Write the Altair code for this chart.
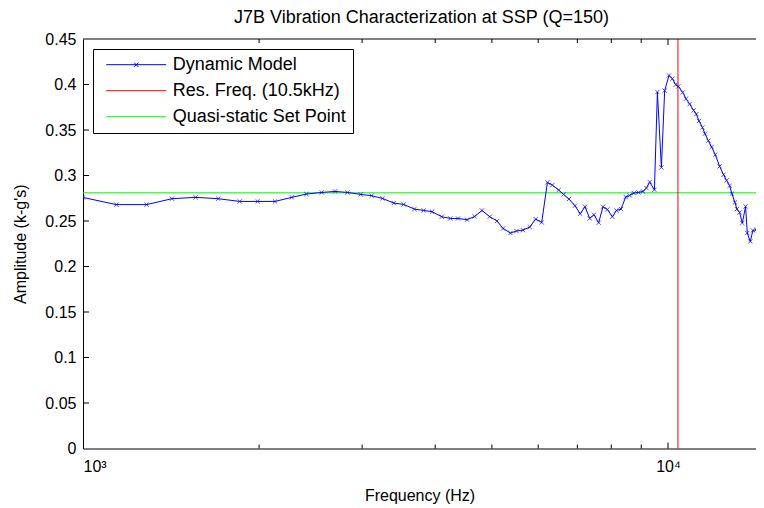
import altair as alt
import pandas as pd

# ---- data ----
freq = [1000, 1140, 1284, 1419, 1558, 1703, 1853, 1989, 2129, 2275, 2409, 2559, 2697, 2831,
        2984, 3115, 3250, 3398, 3533, 3686, 3823, 3951, 4104, 4246, 4375, 4533, 4673, 4809,
        4957, 5103, 5224, 5379, 5508, 5651, 5803, 5941, 6083, 6221, 6343, 6503, 6632, 6772,
        6934, 7079, 7213, 7348, 7472, 7612, 7742, 7877, 8035, 8162, 8311, 8466, 8600, 8738,
        8901, 9064, 9186, 9306, 9480, 9592, 9744, 9870, 10039, 10174, 10308, 10417, 10596,
        10734, 10891, 11064, 11182, 11298, 11450, 11567, 11723, 11875, 12048, 12253, 12448,
        12595, 12746, 12861, 13014, 13118, 13257, 13398, 13571, 13663, 13826, 13966, 14155,
        14266, 14527]
amp = [0.2759, 0.268, 0.268, 0.2745, 0.276, 0.2745, 0.2715, 0.2715, 0.2715, 0.276, 0.2796,
       0.2814, 0.2825, 0.2814, 0.2792, 0.2778, 0.2748, 0.2697, 0.2682, 0.2631, 0.2616, 0.2602,
       0.2547, 0.2528, 0.2528, 0.2514, 0.255, 0.2616, 0.2547, 0.25, 0.2418, 0.2368, 0.239,
       0.24, 0.2433, 0.2521, 0.2484, 0.2924, 0.2895, 0.284, 0.2792, 0.2741, 0.2668, 0.258,
       0.2657, 0.2528, 0.2569, 0.2481, 0.2657, 0.2627, 0.2547, 0.2616, 0.2631, 0.2763, 0.2781,
       0.2807, 0.2814, 0.2825, 0.2862, 0.2928, 0.2843, 0.3917, 0.3089, 0.3932, 0.41, 0.4064,
       0.3998, 0.3979, 0.3913, 0.3844, 0.3785, 0.3715, 0.3675, 0.3599, 0.3528, 0.3459, 0.3382,
       0.3313, 0.3228, 0.31, 0.3008, 0.2946, 0.2887, 0.28, 0.2704, 0.2631, 0.2594, 0.2478,
       0.266, 0.2368, 0.2275, 0.2396, 0.2404, 0.2503, 0.2605]

series_names = ["Dynamic Model", "Res. Freq. (10.5kHz)", "Quasi-static Set Point"]
series_colors = ["#0000ff", "#ff0000", "#00ff00"]
res_freq = [10400]
set_point = [0.281]
y_tick_values = [0, 0.05, 0.1, 0.15, 0.2, 0.25, 0.3, 0.35, 0.4, 0.45]
x_minor_ticks = [2000, 3000, 4000, 5000, 6000, 7000, 8000, 9000]
x_major_ticks = [1000, 10000]

W, H = 673, 409.5
FONT = "Liberation Sans"

dyn = pd.DataFrame({"freq": freq, "amp": amp, "series": series_names[0]})
red = pd.DataFrame({"freq": res_freq, "series": series_names[1]})
green = pd.DataFrame({"amp": set_point, "series": series_names[2]})
minor_df = pd.DataFrame({"freq": x_minor_ticks})
major_df = pd.DataFrame({"freq": x_major_ticks[1:]})
ytk_df = pd.DataFrame({"amp": y_tick_values[1:-1]})

xscale = alt.Scale(type="log", domain=[1000, 14140], nice=False)
yscale = alt.Scale(domain=[0, 0.45], nice=False, zero=False)

xaxis = alt.Axis(values=x_major_ticks, ticks=False, grid=False, labelPadding=10,
                 labelExpr="datum.value == 1000 ? '10³' : (datum.value == 10000 ? '10⁴' : '')",
                 title="Frequency (Hz)", titleY=52, titleBaseline="alphabetic",
                 titleFontWeight="normal")
yaxis = alt.Axis(values=y_tick_values, ticks=False, grid=False, labelPadding=7,
                 format="~g", title="Amplitude (k-g's)", titleX=-63, titleY=H / 2,
                 titleAngle=-90, titleBaseline="middle", titleAlign="center",
                 titleFontWeight="normal")

x_enc = alt.X("freq:Q", scale=xscale, axis=xaxis)
y_enc = alt.Y("amp:Q", scale=yscale, axis=yaxis)
marker_path = "M-1,0L1,0M-0.07,-0.07L0.07,0.07M-0.07,0.07L0.07,-0.07"
color_enc = alt.Color(
    "series:N",
    scale=alt.Scale(domain=series_names, range=series_colors),
    legend=alt.Legend(
        title=None, orient="none", legendX=10, legendY=10,
        symbolType={"expr": "datum.value == 'Dynamic Model' ? '" + marker_path + "' : 'stroke'"},
        symbolStrokeColor={"expr": "scale('color', datum.value)"},
        symbolSize=3600, symbolStrokeWidth=1, symbolOpacity=1,
        clipHeight=18, rowPadding=8,
        labelFontSize=18, labelFont=FONT, labelColor="black", labelOffset=6,
        labelLimit=400,
        strokeColor="black", fillColor="white", padding=6.7, symbolOffset=6,
    ),
)

line = alt.Chart(dyn).mark_line(strokeWidth=1, clip=True).encode(
    x=x_enc, y=y_enc, color=color_enc, order="freq:Q")
pts = alt.Chart(dyn).mark_point(shape="M-1,-1L1,1M-1,1L1,-1", size=18, filled=False,
                                strokeWidth=1, color="#0000ff", clip=True).encode(
    x=x_enc, y=y_enc)
vrule = alt.Chart(red).mark_rule(strokeWidth=1).encode(x=x_enc, color=color_enc)
hrule = alt.Chart(green).mark_rule(strokeWidth=1.5, opacity=0.7).encode(y=y_enc, color=color_enc)

bot_minor = alt.Chart(minor_df).mark_rule(color="black").encode(
    x=x_enc, y=alt.value(H), y2=alt.value(H - 4))
top_minor = alt.Chart(minor_df).mark_rule(color="black").encode(
    x=x_enc, y=alt.value(0), y2=alt.value(4))
bot_major = alt.Chart(major_df).mark_rule(color="black").encode(
    x=x_enc, y=alt.value(H), y2=alt.value(H - 6))
top_major = alt.Chart(major_df).mark_rule(color="black").encode(
    x=x_enc, y=alt.value(0), y2=alt.value(6))
left_ticks = alt.Chart(ytk_df).mark_rule(color="black").encode(
    y=y_enc, x=alt.value(0), x2=alt.value(6))
top_border = alt.Chart(minor_df.head(1)).mark_rule(color="black").encode(
    x=alt.value(0), x2=alt.value(W), y=alt.value(0))

chart = alt.layer(
    hrule, vrule, line, pts, bot_minor, top_minor, bot_major, top_major, left_ticks, top_border
).properties(
    width=W, height=H,
    title=alt.TitleParams("J7B Vibration Characterization at SSP (Q=150)", fontSize=18,
                          font=FONT, fontWeight="normal", color="black", offset=4,
                          anchor="middle", dx=2),
    autosize=alt.AutoSizeParams(type="none"),
    padding={"left": 75, "top": 31, "right": 0, "bottom": 57},
).configure_view(stroke=None).configure_axis(
    domainColor="black", domainWidth=1, labelColor="black", titleColor="black",
    labelFont=FONT, titleFont=FONT, labelFontSize=16, titleFontSize=16
)

chart.save("out.html", embed_options={"renderer": "svg", "actions": False})
